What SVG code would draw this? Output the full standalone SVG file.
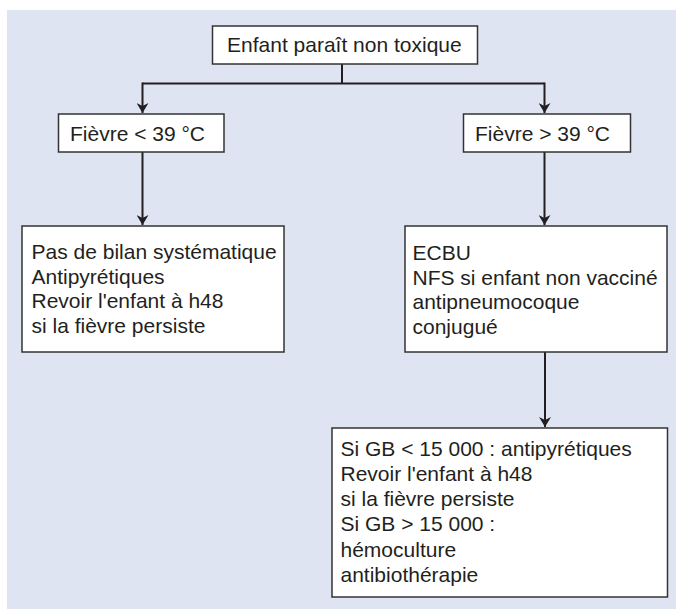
<svg xmlns="http://www.w3.org/2000/svg" width="676" height="609" viewBox="0 0 676 609">
<style>
.box{fill:#ffffff;stroke:#333333;stroke-width:1.5}
.t{font-family:"Liberation Sans",Arial,sans-serif;font-size:21px;fill:#231f20}
.c{fill:none;stroke:#231f20;stroke-width:2}
</style>
<defs>
<marker id="ah" markerWidth="10" markerHeight="12" refX="10" refY="6" orient="auto" markerUnits="userSpaceOnUse" viewBox="0 0 10 12">
<path d="M0,0 L10,6 L0,12 L3,6 Z" fill="#231f20"/>
</marker>
</defs>
<rect x="7" y="10" width="669" height="599" fill="#dee4f2"/>
<g id="connectors">
<path class="c" d="M342,64 V83.5"/>
<path class="c" d="M142.5,83.5 H544.5"/>
<path class="c" d="M142.5,82.5 V113" marker-end="url(#ah)"/>
<path class="c" d="M544.5,82.5 V113" marker-end="url(#ah)"/>
<path class="c" d="M142.5,152 V225" marker-end="url(#ah)"/>
<path class="c" d="M544.5,152 V225" marker-end="url(#ah)"/>
<path class="c" d="M545,352 V427" marker-end="url(#ah)"/>
</g>
<g id="n-top">
<rect class="box" x="212.5" y="26" width="265" height="38"/>
<text class="t" x="227" y="52">Enfant paraît non toxique</text>
</g>
<g id="n-low">
<rect class="box" x="58.5" y="114" width="165.5" height="38"/>
<text class="t" x="70" y="140.5">Fièvre &lt; 39 °C</text>
</g>
<g id="n-high">
<rect class="box" x="463.5" y="114" width="167" height="38"/>
<text class="t" x="475" y="140.5">Fièvre &gt; 39 °C</text>
</g>
<g id="n-low-action">
<rect class="box" x="22" y="226" width="262" height="126"/>
<text class="t" x="31.5" y="259">Pas de bilan systématique</text>
<text class="t" x="31.5" y="283.5">Antipyrétiques</text>
<text class="t" x="31.5" y="308">Revoir l'enfant à h48</text>
<text class="t" x="31.5" y="332.5">si la fièvre persiste</text>
</g>
<g id="n-high-action">
<rect class="box" x="405" y="226" width="262" height="126"/>
<text class="t" x="412.5" y="260">ECBU</text>
<text class="t" x="412.5" y="284.5">NFS si enfant non vacciné</text>
<text class="t" x="412.5" y="309">antipneumocoque</text>
<text class="t" x="412.5" y="333.5">conjugué</text>
</g>
<g id="n-gb">
<rect class="box" x="332" y="428" width="335.5" height="169"/>
<text class="t" x="340.5" y="456">Si GB &lt; 15 000 : antipyrétiques</text>
<text class="t" x="340.5" y="481">Revoir l'enfant à h48</text>
<text class="t" x="340.5" y="506">si la fièvre persiste</text>
<text class="t" x="340.5" y="531">Si GB &gt; 15 000 :</text>
<text class="t" x="340.5" y="556.5">hémoculture</text>
<text class="t" x="340.5" y="582">antibiothérapie</text>
</g>
</svg>
